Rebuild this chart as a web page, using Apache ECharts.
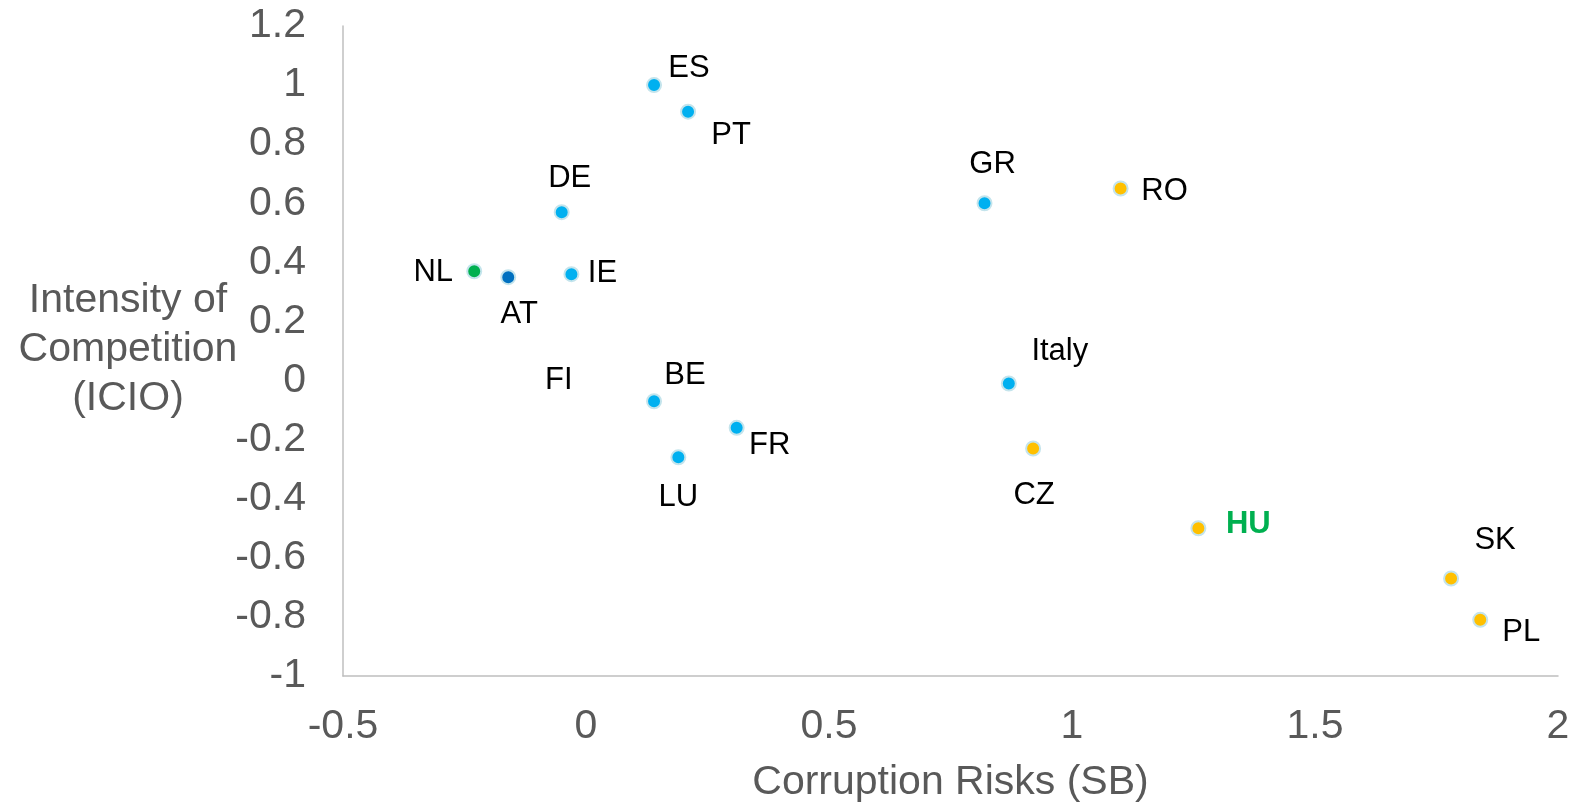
<!DOCTYPE html>
<html>
<head>
<meta charset="utf-8">
<script src="https://cdn.jsdelivr.net/npm/echarts@6/dist/echarts.min.js"></script>
<style>
  html, body { margin: 0; padding: 0; background: #fff; }
  #main { width: 1576px; height: 806px; }
</style>
</head>
<body>
<div id="main"></div>
<script>
// country codes, corruption risks (x) and intensity of competition (y)
const countries = ['ES', 'PT', 'DE', 'NL', 'AT', 'IE', 'FI', 'BE', 'FR', 'LU', 'GR', 'RO', 'Italy', 'CZ', 'HU', 'SK', 'PL']
const corruptionRisk = [0.14, 0.21, -0.05, -0.23, -0.16, -0.03, -0.056, 0.14, 0.31, 0.19, 0.82, 1.10, 0.87, 0.92, 1.26, 1.78, 1.84]
const competition = [1.0, 0.91, 0.57, 0.37, 0.35, 0.36, 0.0, -0.07, -0.16, -0.26, 0.60, 0.65, -0.01, -0.23, -0.50, -0.67, -0.81]
const groups = ['west', 'west', 'west', 'nl', 'at', 'west', 'none', 'west', 'west', 'west', 'west', 'cee', 'west', 'cee', 'cee', 'cee', 'cee']

const xTicks = {min: -0.5, max: 2, step: 0.5}
const yTicks = {min: -1, max: 1.2, step: 0.2}

const groupColor = {
    west: '#00b0f0',
    at: '#0070c0',
    nl: '#00b050',
    cee: '#ffc000',
    none: 'transparent'
}

// where each text sits relative to its dot
const labelOffset = {
    ES: [35, -17], PT: [43, 24], DE: [8, -34], NL: [-41, 1], AT: [11, 37],
    IE: [31, -1], FI: [0, 0], BE: [31, -26], FR: [33, 18], LU: [0, 40],
    GR: [8, -39], RO: [44, 3], Italy: [51, -32], CZ: [1, 47], HU: [50, -4],
    SK: [44, -38], PL: [41, 13]
}

const axisGrey = '#595959'
const fmt = v => String(Math.round(v * 10) / 10)

let myChart = echarts.init(document.getElementById('main'))

const points = countries.map((name, i) => {
    let item = {
        name: name,
        value: [corruptionRisk[i], competition[i]],
        itemStyle: {color: groupColor[groups[i]]},
        label: {offset: labelOffset[name]}
    }
    if (groups[i] === 'none') {
        item.symbolSize = 0
        item.itemStyle.borderWidth = 0
    }
    if (name === 'HU') {
        item.label.color = '#00b050'
        item.label.fontWeight = 'bold'
    }
    return item
})

let option = {
    backgroundColor: '#ffffff',
    animation: false,
    grid: {left: 343, right: 18, top: 26, bottom: 130, outerBoundsMode: 'none', containLabel: false},
    textStyle: {fontFamily: 'Liberation Sans, Arial, sans-serif'},
    xAxis: {
        type: 'value',
        min: xTicks.min,
        max: xTicks.max,
        interval: xTicks.step,
        name: 'Corruption Risks (SB)',
        nameLocation: 'middle',
        nameGap: 86,
        nameTextStyle: {fontSize: 41, color: axisGrey, fontFamily: 'Liberation Sans'},
        axisLine: {onZero: false, lineStyle: {color: '#bfbfbf', width: 1.5}},
        axisTick: {show: false},
        splitLine: {show: false},
        axisLabel: {fontSize: 41, color: axisGrey, margin: 30, formatter: fmt, fontFamily: 'Liberation Sans'}
    },
    yAxis: {
        type: 'value',
        min: yTicks.min,
        max: yTicks.max,
        interval: yTicks.step,
        axisLine: {show: true, onZero: false, lineStyle: {color: '#bfbfbf', width: 1.5}},
        axisTick: {show: false},
        splitLine: {show: false},
        axisLabel: {fontSize: 41, color: axisGrey, margin: 37, formatter: fmt, fontFamily: 'Liberation Sans'}
    },
    // y axis title, three centred lines left of the tick labels
    graphic: [{
        type: 'text',
        x: 128,
        y: 350,
        style: {
            text: 'Intensity of\nCompetition\n(ICIO)',
            fontSize: 41,
            lineHeight: 49,
            fill: axisGrey,
            align: 'center',
            verticalAlign: 'middle',
            fontFamily: 'Liberation Sans'
        }
    }],
    series: [{
        type: 'scatter',
        symbolSize: 14,
        itemStyle: {borderColor: '#c4e4ec', borderWidth: 2, opacity: 1},
        label: {
            show: true,
            position: 'inside',
            formatter: p => p.name,
            fontSize: 31,
            color: '#000000',
            fontFamily: 'Liberation Sans'
        },
        emphasis: {disabled: true},
        data: points
    }]
}

myChart.setOption(option)
</script>
</body>
</html>
